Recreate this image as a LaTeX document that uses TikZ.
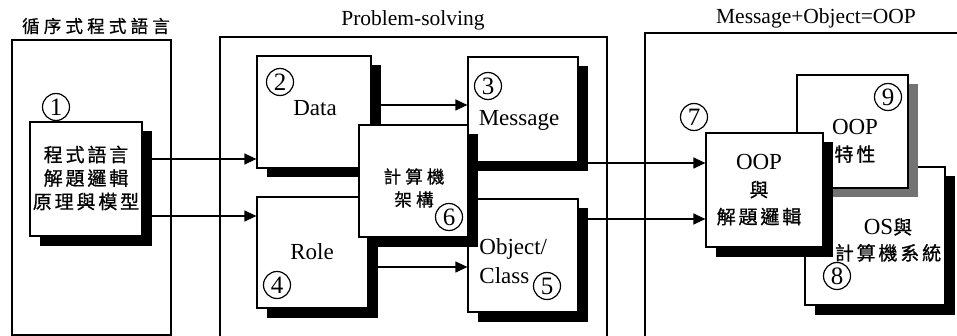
\documentclass[tikz,border=0pt]{standalone}
\usepackage{fontspec}
\setmainfont{Liberation Serif}
\newfontfamily\cjk[LetterSpace=15, FakeBold=0.8]{Noto Sans CJK TC}
\newfontfamily\cjks[LetterSpace=24, FakeBold=0.8]{Noto Sans CJK TC}
\newcommand{\zh}[1]{{\cjk\fontsize{9.5}{13.5}\selectfont#1}}
\usetikzlibrary{arrows.meta,shadows}

\tikzset{
  shbox/.style={draw, line width=0.6pt, fill=white, inner sep=0pt,
    drop shadow={shadow xshift=4.75pt, shadow yshift=-4.75pt, fill=#1, opacity=1}},
  shbox/.default=black,
  num/.style={circle, draw, line width=0.6pt, minimum size=13.5pt, inner sep=0pt,
    font=\fontsize{12.5}{12.5}\selectfont},
  lbl/.style={align=center, inner sep=0pt, font=\fontsize{11.5}{13.5}\selectfont},
  zhlbl/.style={align=center, inner sep=0pt, font=\cjk\fontsize{9.5}{11.75}\selectfont},
  ttl/.style={inner sep=0pt, font=\fontsize{10.75}{12}\selectfont},
  arr/.style={-{Triangle[length=6pt,width=5.5pt]}, line width=0.6pt}
}

\begin{document}
\begin{tikzpicture}[x=0.5pt, y=-0.5pt]
    \useasboundingbox (0,0) rectangle (957,336);
    \clip (0,0) rectangle (957,336);

    % Panels
    \draw[line width=0.6pt] (12,40) rectangle (171,335);
    \draw[line width=0.6pt] (220,345) |- (607,37) -- (607,345);
    \draw[line width=0.6pt] (645,345) |- (970,33);

    % Titles
    \node[ttl, font=\cjks\fontsize{8.75}{10}\selectfont] (tSeq) at (96,26) {循序式程式語言};
    \node[ttl] (tProb) at (413,20) {Problem-solving};
    \node[ttl] (tOop) at (816,18) {Message+Object=OOP};

    % Boxes
    \node[shbox, minimum width=56pt, minimum height=57pt] (b1) at (86,179) {};
    \node[shbox, minimum width=57pt, minimum height=56pt] (b2) at (314,112) {};
    \node[shbox, minimum width=55pt, minimum height=52.5pt] (b3) at (523,109.5) {};
    \node[shbox, minimum width=55.5pt, minimum height=55.5pt] (b4) at (312.5,252.5) {};
    \node[shbox, minimum width=55pt, minimum height=56.5pt] (b5) at (523,255.5) {};
    \node[shbox, minimum width=54.5pt, minimum height=56pt] (b6) at (413.5,181) {};
    \node[shbox, minimum width=70pt, minimum height=69pt] (b8) at (875,236) {};
    \node[shbox=black!55, minimum width=55.5pt, minimum height=56.5pt] (b9) at (852.5,131.5) {};
    \node[shbox, minimum width=58.5pt, minimum height=57pt] (b7) at (764.5,190) {};

    % Texts
    \node[zhlbl] (t1) at (86,178) {程式語言\\解題邏輯\\原理與模型};
    \node[lbl] (t2) at (315,108) {Data};
    \node[lbl] (t3) at (519,120) {Message};
    \node[lbl] (t4) at (312,252) {Role};
    \node[lbl, align=left, anchor=west] (t5) at (479,261) {Object/\\[1pt]Class};
    \node[zhlbl, font=\cjks\fontsize{8.75}{11.5}\selectfont] (t6) at (414,188) {計算機\\架構};
    \node[lbl] (t7) at (759,190) {OOP\\\zh{與}\\\zh{解題邏輯}};
    \node[lbl] (t9) at (855,141) {OOP\\\zh{特性}};
    \node[lbl, font=\fontsize{11.5}{13}\selectfont] (t8) at (888,240) {OS\zh{與}\\\zh{計算機系統}};

    % Numbers
    \node[num] (n1) at (56,107) {1};
    \node[num] (n2) at (280,82) {2};
    \node[num] (n3) at (488,86) {3};
    \node[num] (n4) at (277,285) {4};
    \node[num] (n5) at (547,286) {5};
    \node[num] (n6) at (449,217) {6};
    \node[num] (n7) at (694,117) {7};
    \node[num] (n8) at (837,276) {8};
    \node[num] (n9) at (888,97) {9};

    % Arrows
    \coordinate (r1) at (0,159);
    \coordinate (r2) at (0,216);
    \coordinate (r3) at (0,105);
    \coordinate (r4) at (0,267);
    \coordinate (r5) at (0,163);
    \coordinate (r6) at (0,219);
    \draw[arr] (b1.east |- r1) -- (b2.west |- r1);
    \draw[arr] (b1.east |- r2) -- (b4.west |- r2);
    \draw[arr] (b2.east |- r3) -- (b3.west |- r3);
    \draw[arr] (b4.east |- r4) -- (b5.west |- r4);
    \draw[arr] (b3.east |- r5) -- (b7.west |- r5);
    \draw[arr] (b5.east |- r6) -- (b7.west |- r6);
\end{tikzpicture}
\end{document}
